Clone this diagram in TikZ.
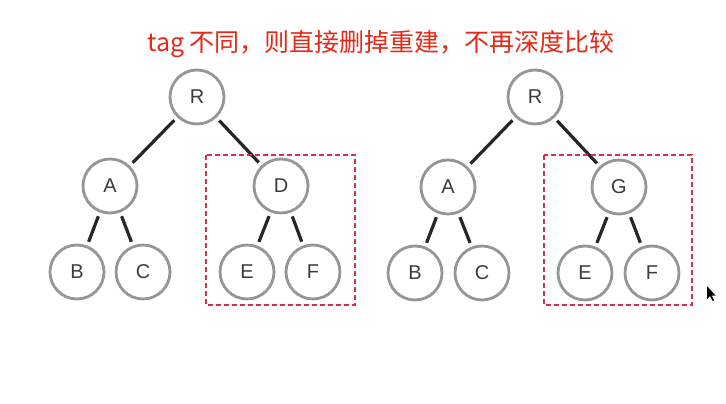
\documentclass[tikz,border=0pt]{standalone}
\usepackage{fontspec}
\setmainfont{Liberation Sans}
\newfontfamily\cjk{Noto Sans CJK SC}
\definecolor{titlered}{RGB}{232,40,22}
\definecolor{boxred}{RGB}{214,48,78}
\definecolor{ring}{RGB}{150,150,150}
\definecolor{letter}{RGB}{60,60,60}
\begin{document}
\begin{tikzpicture}[x=1pt,y=-1pt,
  tnode/.style={circle,draw=ring,line width=2.8pt,minimum size=54pt,inner sep=0pt,
    font=\fontsize{20}{20}\selectfont,text=letter,fill=white},
  edge/.style={line width=3.2pt,draw=black!85,shorten <=4pt,shorten >=4pt},
  dbox/.style={draw=boxred,dashed,line width=1.8pt,dash pattern=on 5pt off 3pt}]
\useasboundingbox (0,0) rectangle (726,404);
\node[text=titlered,font=\cjk\fontsize{25}{25}\selectfont] (title) at (381,44) {tag 不同，则直接删掉重建，不再深度比较};
% left tree
\node[tnode] (R1) at (197,97) {R};
\node[tnode] (A1) at (110,186) {A};
\node[tnode] (D1) at (281,186) {D};
\node[tnode] (B1) at (77,272) {B};
\node[tnode] (C1) at (143,272) {C};
\node[tnode] (E1) at (247,272) {E};
\node[tnode] (F1) at (313,272) {F};
\draw[edge] (R1) -- (A1);
\draw[edge] (R1) -- (D1);
\draw[edge] (A1) -- (B1);
\draw[edge] (A1) -- (C1);
\draw[edge] (D1) -- (E1);
\draw[edge] (D1) -- (F1);
\draw[dbox] (206,155) rectangle (355,305);
% right tree
\node[tnode] (R2) at (535,97) {R};
\node[tnode] (A2) at (448,187) {A};
\node[tnode] (G2) at (619,187) {G};
\node[tnode] (B2) at (415,273) {B};
\node[tnode] (C2) at (482,273) {C};
\node[tnode] (E2) at (585,273) {E};
\node[tnode] (F2) at (652,273) {F};
\draw[edge] (R2) -- (A2);
\draw[edge] (R2) -- (G2);
\draw[edge] (A2) -- (B2);
\draw[edge] (A2) -- (C2);
\draw[edge] (G2) -- (E2);
\draw[edge] (G2) -- (F2);
\draw[dbox] (544,155) rectangle (692,305);
% mouse cursor
\fill[black] (707,286) -- (707,299) -- (710,296) -- (712.5,301) -- (714,300.3) -- (711.7,295.5) -- (715.5,295.5) -- cycle;
\end{tikzpicture}
\end{document}
